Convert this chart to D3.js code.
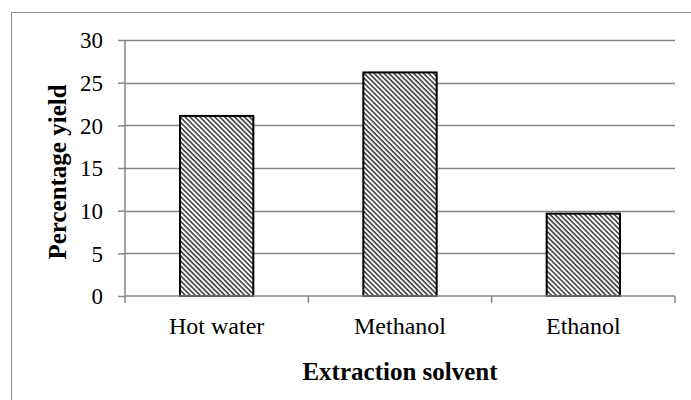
<!DOCTYPE html>
<html><head><meta charset="utf-8">
<script src="https://cdn.jsdelivr.net/npm/d3@7"></script>
<style>body{margin:0;background:#fff}svg{display:block}</style>
</head><body>
<script>
const categories = ["Hot water", "Methanol", "Ethanol"];
const values = [21.1, 26.2, 9.65];
const yTicks = [0, 5, 10, 15, 20, 25, 30];
const xTitle = "Extraction solvent";
const yTitle = "Percentage yield";

const W = 691, H = 400;
const m = {left: 125, right: 16, top: 40, bottom: 104};
const FONT = "Liberation Serif, Times New Roman, serif";
const svg = d3.select("body").append("svg").attr("width", W).attr("height", H);

const defs = svg.append("defs");
const pat = defs.append("pattern").attr("id", "hatch").attr("patternUnits", "userSpaceOnUse")
  .attr("width", 3.5).attr("height", 3.5).attr("patternTransform", "rotate(45)");
pat.append("rect").attr("width", 3.5).attr("height", 3.5).attr("fill", "#fff");
pat.append("line").attr("x1", 0).attr("y1", 0.8).attr("x2", 3.5).attr("y2", 0.8)
  .attr("stroke", "#222").attr("stroke-width", 1.4);

// outer border (clipped at right/bottom as in reference)
svg.append("rect").attr("x", 11.5).attr("y", 12.5).attr("width", 700).attr("height", 420)
  .attr("fill", "none").attr("stroke", "#8c8c8c").attr("stroke-width", 1);

const x = d3.scaleBand().domain(categories).range([m.left, W - m.right]).paddingInner(0.6).paddingOuter(0.3);
const y = d3.scaleLinear().domain([0, 30]).range([H - m.bottom, m.top]);

// gridlines
svg.append("g").selectAll("line").data(yTicks.filter(d => d > 0)).join("line")
  .attr("x1", m.left).attr("x2", W - m.right)
  .attr("y1", d => Math.round(y(d)) + 0.5).attr("y2", d => Math.round(y(d)) + 0.5)
  .attr("stroke", "#868686").attr("stroke-width", 1.5);

// bars
svg.append("g").selectAll("rect").data(values).join("rect")
  .attr("x", (d, i) => x(categories[i]))
  .attr("y", d => y(d))
  .attr("width", x.bandwidth())
  .attr("height", d => y(0) - y(d))
  .attr("fill", "url(#hatch)").attr("stroke", "#000").attr("stroke-width", 2);

// y axis
const yAxis = d3.axisLeft(y).tickValues(yTicks).tickSize(7).tickPadding(15);
const gy = svg.append("g").attr("transform", `translate(${m.left},0)`).call(yAxis);
gy.select(".domain").attr("stroke", "#868686").attr("stroke-width", 1.5).attr("d", `M0,${y(30)}V${y(0)}`);
gy.selectAll(".tick line").attr("stroke", "#868686").attr("stroke-width", 1.5);
gy.selectAll(".tick text").attr("font-family", FONT)
  .attr("font-size", 23).attr("fill", "#000").attr("dy", "0.34em");

// x axis with ticks at band boundaries
const gx = svg.append("g").attr("transform", `translate(0,${y(0)})`);
gx.append("line").attr("x1", m.left).attr("x2", W - m.right).attr("stroke", "#868686").attr("stroke-width", 1.5);
const bounds = d3.range(categories.length + 1).map(i => m.left + i * (W - m.left - m.right) / categories.length);
gx.selectAll("line.tk").data(bounds).join("line").attr("class", "tk")
  .attr("x1", d => d).attr("x2", d => d).attr("y1", 0).attr("y2", 7)
  .attr("stroke", "#868686").attr("stroke-width", 1.5);
gx.selectAll("text").data(categories).join("text")
  .attr("x", d => x(d) + x.bandwidth() / 2).attr("y", 38)
  .attr("text-anchor", "middle")
  .attr("font-family", FONT).attr("font-size", 24)
  .text(d => d);

// titles
svg.append("text").attr("x", (m.left + W - m.right) / 2).attr("y", 380)
  .attr("text-anchor", "middle").attr("font-family", FONT)
  .attr("font-size", 25).attr("font-weight", "bold").text(xTitle);
svg.append("text").attr("transform", `translate(66,172) rotate(-90)`)
  .attr("text-anchor", "middle").attr("font-family", FONT)
  .attr("font-size", 25).attr("font-weight", "bold").text(yTitle);
</script>
</body></html>
